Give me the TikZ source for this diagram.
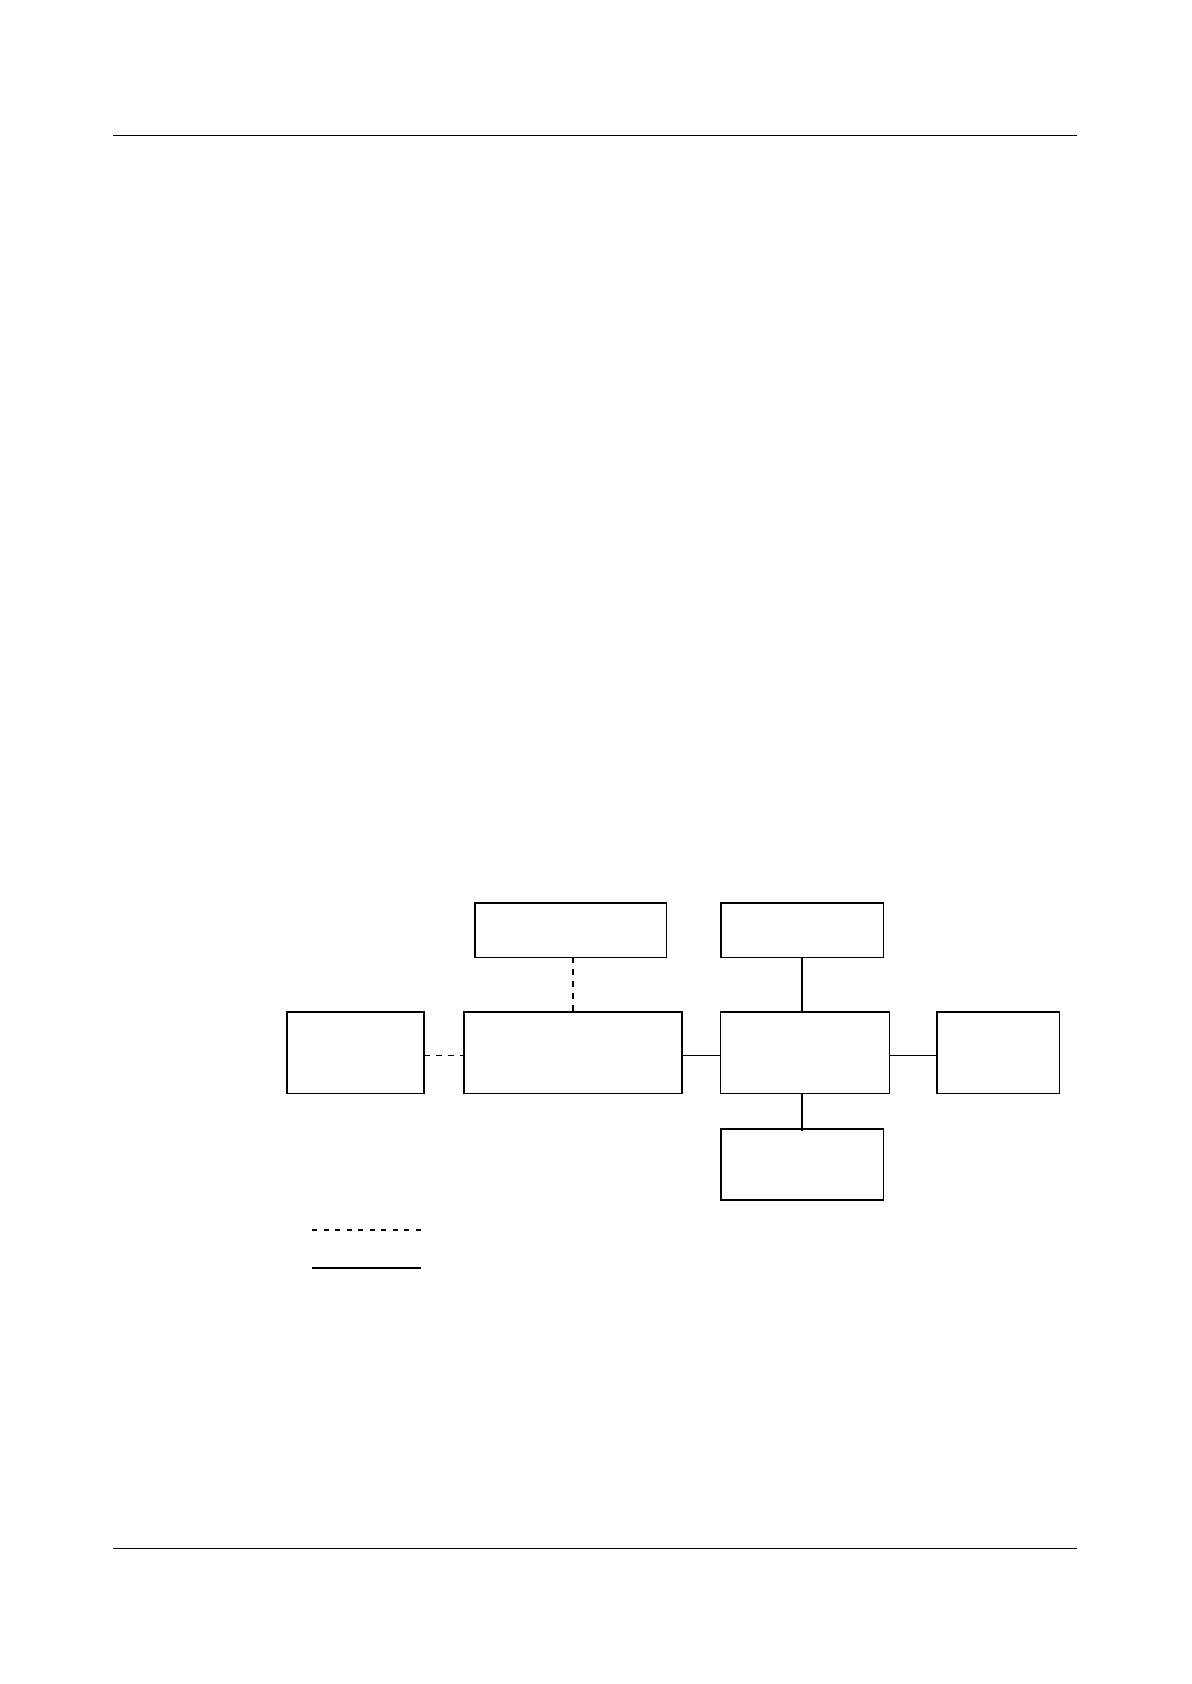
\documentclass[tikz,border=0pt]{standalone}
\begin{document}
\begin{tikzpicture}[x=0.5pt,y=-0.5pt,
  box/.style={draw,rectangle,inner sep=0pt,outer sep=0pt,line width=0.8pt},
  thinline/.style={line width=0.55pt},
  thickline/.style={line width=1.1pt},
  dashline/.style={line width=0.6pt,dash pattern=on 3pt off 3pt},
  legdash/.style={line width=1.1pt,dash pattern=on 2.6pt off 3.15pt},
  rule/.style={line width=0.75pt}]
\useasboundingbox (0,0) rectangle (1191,1684);
% page rules
\coordinate (t1) at (113,135.3);
\coordinate (t2) at (1077,135.3);
\coordinate (b1) at (113,1548.3);
\coordinate (b2) at (1077,1548.3);
\draw[rule] (t1) -- (t2);
\draw[rule] (b1) -- (b2);
% boxes
\node[box,minimum width=95.8pt,minimum height=27.3pt] (A) at (570.5,930) {};
\node[box,minimum width=81.3pt,minimum height=27.3pt] (B) at (802,930) {};
\node[box,minimum width=68.5pt,minimum height=40.65pt] (L) at (355.2,1052.7) {};
\node[box,minimum width=109.15pt,minimum height=40.65pt] (M) at (572.9,1052.7) {};
\node[box,minimum width=84.4pt,minimum height=40.65pt] (C) at (805,1052.7) {};
\node[box,minimum width=61.3pt,minimum height=40.65pt] (R) at (998,1052.7) {};
\node[box,minimum width=81.3pt,minimum height=35.65pt] (D) at (802,1164.4) {};
% connectors
\draw[dashline] (M.north |- A.south) -- (M.north);
\draw[dashline] ([yshift=-1.3pt]L.east) -- ([yshift=-1.3pt]L.east -| M.west);
\draw[thinline] ([yshift=-1.2pt]M.east) -- ([yshift=-1.2pt]M.east -| C.west);
\draw[thinline] ([yshift=-1.2pt]C.east) -- ([yshift=-1.2pt]C.east -| R.west);
\draw[thickline] (B.south) -- (B.south |- C.north);
\draw[thickline] (B.south |- C.south) -- ([yshift=-1.3pt]D.north);
% legend
\coordinate (ld1) at (312,1230);
\coordinate (ld2) at (421,1230);
\coordinate (ls1) at (312,1268);
\coordinate (ls2) at (421,1268);
\draw[legdash] (ld1) -- (ld2);
\draw[thickline] (ls1) -- (ls2);
\end{tikzpicture}
\end{document}
